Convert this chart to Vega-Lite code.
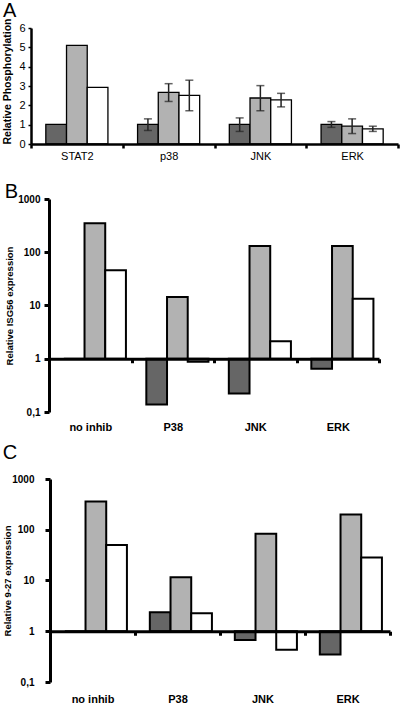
{
  "$schema": "https://vega.github.io/schema/vega-lite/v6.json",
  "background": "white",
  "padding": {"left": 2, "top": 0, "right": 0, "bottom": 0},
  "config": {
    "view": {"stroke": null},
    "font": "Liberation Sans",
    "axis": {"labelColor": "#000", "titleColor": "#000", "domainColor": "#000", "tickColor": "#000", "grid": false}
  },
  "datasets": {
    "a": [
      {"cat": "STAT2", "series": "S1", "value": 1.02, "lo": null, "hi": null},
      {"cat": "STAT2", "series": "S2", "value": 5.1, "lo": null, "hi": null},
      {"cat": "STAT2", "series": "S3", "value": 2.93, "lo": null, "hi": null},
      {"cat": "p38", "series": "S1", "value": 1.02, "lo": 0.7, "hi": 1.3},
      {"cat": "p38", "series": "S2", "value": 2.67, "lo": 2.2, "hi": 3.12},
      {"cat": "p38", "series": "S3", "value": 2.52, "lo": 1.72, "hi": 3.3},
      {"cat": "JNK", "series": "S1", "value": 1.02, "lo": 0.65, "hi": 1.35},
      {"cat": "JNK", "series": "S2", "value": 2.38, "lo": 1.72, "hi": 3.02},
      {"cat": "JNK", "series": "S3", "value": 2.28, "lo": 1.92, "hi": 2.62},
      {"cat": "ERK", "series": "S1", "value": 1.02, "lo": 0.86, "hi": 1.16},
      {"cat": "ERK", "series": "S2", "value": 0.92, "lo": 0.54, "hi": 1.3},
      {"cat": "ERK", "series": "S3", "value": 0.78, "lo": 0.65, "hi": 0.92}
    ],
    "b": [
      {"cat": "no inhib", "series": "S1", "value": 1},
      {"cat": "no inhib", "series": "S2", "value": 349},
      {"cat": "no inhib", "series": "S3", "value": 46},
      {"cat": "P38", "series": "S1", "value": 0.138},
      {"cat": "P38", "series": "S2", "value": 14.4},
      {"cat": "P38", "series": "S3", "value": 0.88},
      {"cat": "JNK", "series": "S1", "value": 0.223},
      {"cat": "JNK", "series": "S2", "value": 131},
      {"cat": "JNK", "series": "S3", "value": 2.14},
      {"cat": "ERK", "series": "S1", "value": 0.65},
      {"cat": "ERK", "series": "S2", "value": 131},
      {"cat": "ERK", "series": "S3", "value": 13.4}
    ],
    "c": [
      {"cat": "no inhib", "series": "S1", "value": 1},
      {"cat": "no inhib", "series": "S2", "value": 360},
      {"cat": "no inhib", "series": "S3", "value": 50},
      {"cat": "P38", "series": "S1", "value": 2.37},
      {"cat": "P38", "series": "S2", "value": 11.6},
      {"cat": "P38", "series": "S3", "value": 2.27},
      {"cat": "JNK", "series": "S1", "value": 0.67},
      {"cat": "JNK", "series": "S2", "value": 83},
      {"cat": "JNK", "series": "S3", "value": 0.43},
      {"cat": "ERK", "series": "S1", "value": 0.35},
      {"cat": "ERK", "series": "S2", "value": 200},
      {"cat": "ERK", "series": "S3", "value": 28.3}
    ]
  },
  "columns": 1,
  "align": "none",
  "spacing": 21,
  "concat": [
    {
      "title": {"text": "A", "anchor": "start", "frame": "bounds", "fontSize": 20, "fontWeight": "normal", "offset": -3, "color": "#000"},
      "width": 367,
      "height": 116,
      "data": {"name": "a"},
      "encoding": {
        "x": {
          "field": "cat", "type": "nominal", "sort": ["STAT2", "p38", "JNK", "ERK"],
          "scale": {"paddingInner": 0, "paddingOuter": 0},
          "axis": {"title": null, "labelAngle": 0, "labelFontSize": 11, "labelPadding": 2, "domainWidth": 2.5, "tickBand": "extent", "tickWidth": 2.5, "tickSize": 4, "zindex": 1}
        },
        "xOffset": {"field": "series", "type": "nominal", "sort": ["S1", "S2", "S3"], "scale": {"paddingInner": 0, "paddingOuter": 0.716}}
      },
      "layer": [
        {
          "mark": {"type": "bar", "stroke": "#000", "strokeWidth": 1.3},
          "encoding": {
            "y": {
              "field": "value", "type": "quantitative", "title": "Relative Phosphorylation",
              "scale": {"domain": [0, 6], "nice": false},
              "axis": {"values": [0, 1, 2, 3, 4, 5, 6], "labelOverlap": false, "titleFontSize": 10.5, "titleFontWeight": "bold", "titlePadding": 6, "titleY": 53, "labelFontSize": 11, "labelPadding": 3, "tickSize": 3, "tickWidth": 1.5, "domainWidth": 2.5, "zindex": 1}
            },
            "fill": {"field": "series", "type": "nominal", "scale": {"domain": ["S1", "S2", "S3"], "range": ["#666666", "#b2b2b2", "#ffffff"]}, "legend": null}
          }
        },
        {
          "transform": [{"filter": "datum.lo != null"}],
          "mark": {"type": "rule", "color": "#222", "strokeWidth": 1.5},
          "encoding": {
            "y": {"field": "lo", "type": "quantitative", "title": "Relative Phosphorylation",
              "axis": {"values": [0, 1, 2, 3, 4, 5, 6], "labelOverlap": false, "titleFontSize": 10.5, "titleFontWeight": "bold", "titlePadding": 6, "titleY": 53, "labelFontSize": 11, "labelPadding": 3, "tickSize": 3, "tickWidth": 1.5, "domainWidth": 2.5, "zindex": 1}},
            "y2": {"field": "hi"}
          }
        },
        {
          "transform": [{"filter": "datum.lo != null"}],
          "mark": {"type": "tick", "color": "#222", "thickness": 1.5, "size": 8},
          "encoding": {"y": {"field": "lo", "type": "quantitative", "title": "Relative Phosphorylation",
            "axis": {"values": [0, 1, 2, 3, 4, 5, 6], "labelOverlap": false, "titleFontSize": 10.5, "titleFontWeight": "bold", "titlePadding": 6, "titleY": 53, "labelFontSize": 11, "labelPadding": 3, "tickSize": 3, "tickWidth": 1.5, "domainWidth": 2.5, "zindex": 1}}}
        },
        {
          "transform": [{"filter": "datum.hi != null"}],
          "mark": {"type": "tick", "color": "#222", "thickness": 1.5, "size": 8},
          "encoding": {"y": {"field": "hi", "type": "quantitative", "title": "Relative Phosphorylation",
            "axis": {"values": [0, 1, 2, 3, 4, 5, 6], "labelOverlap": false, "titleFontSize": 10.5, "titleFontWeight": "bold", "titlePadding": 6, "titleY": 53, "labelFontSize": 11, "labelPadding": 3, "tickSize": 3, "tickWidth": 1.5, "domainWidth": 2.5, "zindex": 1}}}
        }
      ]
    },
    {
      "columns": 1,
      "align": "none",
      "spacing": 10,
      "concat": [
        {
          "title": {"text": "B", "anchor": "start", "frame": "bounds", "fontSize": 20, "fontWeight": "normal", "offset": -8, "color": "#000"},
          "width": 348,
          "height": 213,
          "data": {"name": "b"},
          "mark": {"type": "bar", "stroke": "#000", "strokeWidth": 2},
          "encoding": {
            "x": {
              "field": "cat", "type": "nominal", "sort": ["no inhib", "P38", "JNK", "ERK"],
              "scale": {"paddingInner": 0, "paddingOuter": 0, "rangeMin": 18},
              "axis": {"title": null, "labelAngle": 0, "labelFontSize": 11, "labelFontWeight": "bold", "offset": -53.25, "domainWidth": 3, "tickBand": "extent", "tickSize": 4, "tickWidth": 3, "labelPadding": 59, "zindex": 1}
            },
            "xOffset": {"field": "series", "type": "nominal", "sort": ["S1", "S2", "S3"], "scale": {"paddingInner": 0, "paddingOuter": 0.79}},
            "y": {
              "field": "value", "type": "quantitative", "title": "Relative ISG56 expression",
              "scale": {"type": "log", "domain": [0.1, 1000], "nice": false},
              "axis": {"values": [0.1, 1, 10, 100, 1000], "labelExpr": "datum.value < 1 ? '0,1' : format(datum.value, 'd')", "offset": -18, "labelFontSize": 10, "labelFontWeight": "bold", "labelPadding": 4, "tickSize": 5, "tickWidth": 3, "domainWidth": 3, "titleFontSize": 9.5, "titleFontWeight": "bold", "titlePadding": 3, "zindex": 1}
            },
            "y2": {"datum": 1},
            "fill": {"field": "series", "type": "nominal", "scale": {"domain": ["S1", "S2", "S3"], "range": ["#666666", "#b2b2b2", "#ffffff"]}, "legend": null}
          }
        },
        {
          "title": {"text": "C", "anchor": "start", "frame": "bounds", "fontSize": 20, "fontWeight": "normal", "offset": 11, "color": "#000"},
          "width": 359,
          "height": 203,
          "data": {"name": "c"},
          "mark": {"type": "bar", "stroke": "#000", "strokeWidth": 2},
          "encoding": {
            "x": {
              "field": "cat", "type": "nominal", "sort": ["no inhib", "P38", "JNK", "ERK"],
              "scale": {"paddingInner": 0, "paddingOuter": 0, "rangeMin": 19},
              "axis": {"title": null, "labelAngle": 0, "labelFontSize": 11, "labelFontWeight": "bold", "offset": -50.75, "domainWidth": 3, "tickBand": "extent", "tickSize": 4, "tickWidth": 3, "labelPadding": 58, "zindex": 1}
            },
            "xOffset": {"field": "series", "type": "nominal", "sort": ["S1", "S2", "S3"], "scale": {"paddingInner": 0, "paddingOuter": 0.6}},
            "y": {
              "field": "value", "type": "quantitative", "title": "Relative 9-27 expression",
              "scale": {"type": "log", "domain": [0.1, 1000], "nice": false},
              "axis": {"values": [0.1, 1, 10, 100, 1000], "labelExpr": "datum.value < 1 ? '0,1' : format(datum.value, 'd')", "offset": -19, "labelFontSize": 10, "labelFontWeight": "bold", "labelPadding": 11, "tickSize": 5, "tickWidth": 3, "domainWidth": 3, "titleFontSize": 9.5, "titleFontWeight": "bold", "titlePadding": -1, "zindex": 1}
            },
            "y2": {"datum": 1},
            "fill": {"field": "series", "type": "nominal", "scale": {"domain": ["S1", "S2", "S3"], "range": ["#666666", "#b2b2b2", "#ffffff"]}, "legend": null}
          }
        }
      ]
    }
  ]
}
